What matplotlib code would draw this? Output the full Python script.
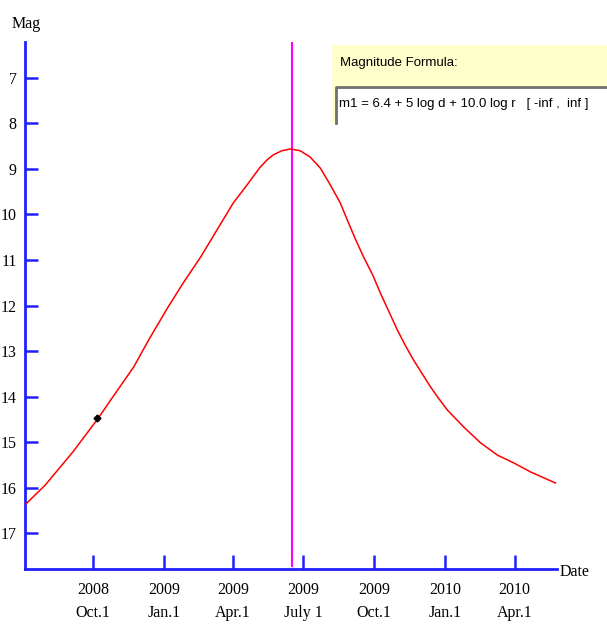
import datetime as dt
import matplotlib
matplotlib.use("Agg")
import matplotlib.pyplot as plt
import matplotlib.dates as mdates
from matplotlib.patches import Rectangle

# curve (date, magnitude)
curve_dates = ["2008-07-05", "2008-07-31", "2008-09-05", "2008-10-07", "2008-10-24",
               "2008-11-23", "2008-12-14", "2009-01-06", "2009-01-26", "2009-02-18",
               "2009-03-11", "2009-04-01", "2009-04-19", "2009-05-06", "2009-05-15",
               "2009-05-23", "2009-06-03", "2009-06-14", "2009-06-27", "2009-07-10",
               "2009-07-23", "2009-08-05", "2009-08-18", "2009-08-27", "2009-09-06",
               "2009-09-17", "2009-09-29", "2009-10-09", "2009-10-31", "2009-11-10",
               "2009-11-21", "2009-12-13", "2009-12-23", "2010-01-04", "2010-01-25",
               "2010-02-16", "2010-03-10", "2010-03-31", "2010-04-22", "2010-05-24"]
curve_mags = [16.38, 15.95, 15.22, 14.50, 14.08,
              13.35, 12.71, 12.05, 11.51, 10.93,
              10.34, 9.75, 9.35, 8.96, 8.80,
              8.69, 8.60, 8.56, 8.60, 8.74,
              8.98, 9.35, 9.75, 10.12, 10.52,
              10.93, 11.33, 11.73, 12.54, 12.87,
              13.20, 13.79, 14.03, 14.30, 14.67,
              15.02, 15.29, 15.46, 15.66, 15.90]

obs_dates = ["2008-10-07"]
obs_mags = [14.47]

today = "2009-06-16"

tick_dates = ["2008-10-01", "2009-01-01", "2009-04-01", "2009-07-01",
              "2009-10-01", "2010-01-01", "2010-04-01"]
tick_labels = ["2008\nOct.1", "2009\nJan.1", "2009\nApr.1", "2009\nJuly 1",
               "2009\nOct.1", "2010\nJan.1", "2010\nApr.1"]
mag_ticks = [7, 8, 9, 10, 11, 12, 13, 14, 15, 16, 17]

formula = "m1 = 6.4 + 5 log d + 10.0 log r   [ -inf ,  inf ]"


def to_dt(s):
    return dt.datetime.strptime(s, "%Y-%m-%d")


W, H = 607, 624
fig = plt.figure(figsize=(W / 100, H / 100), dpi=100)
ax = fig.add_axes([25 / W, (H - 569) / H, 532 / W, (569 - 42) / H])

blue = "#2020ff"
lab_font = "Liberation Serif"
box_font = "Liberation Sans"

ax.plot([to_dt(d) for d in curve_dates], curve_mags, color="red", lw=1.1, zorder=3)
ax.plot([to_dt(d) for d in obs_dates], obs_mags, "D", color="black", ms=3.5, zorder=4)
ax.axvline(to_dt(today), ymin=0.005, ymax=1, color="magenta", lw=1.5, zorder=2)

ax.set_xlim(to_dt("2008-07-05"), to_dt("2010-05-26"))
ax.set_ylim(17.79, 6.21)

ax.set_xticks([mdates.date2num(to_dt(d)) for d in tick_dates])
ax.set_xticklabels(tick_labels, fontfamily=lab_font, fontsize=11.5, linespacing=1.65)
ax.set_yticks(mag_ticks)
ax.set_yticklabels([str(m) for m in mag_ticks], fontfamily=lab_font, fontsize=11.5)

ax.tick_params(axis="x", direction="in", length=10, width=1.8, color=blue, pad=9)
ax.tick_params(axis="y", direction="in", length=9, width=1.8, color=blue, pad=6)

for side in ["top", "right"]:
    ax.spines[side].set_visible(False)
for side in ["left", "bottom"]:
    ax.spines[side].set_color(blue)
    ax.spines[side].set_linewidth(2)

fig.text(12 / W, 1 - 24 / H, "Mag", fontfamily=lab_font, fontsize=11.5, va="center", ha="left")
fig.text(560 / W, 1 - 572 / H, "Date", fontfamily=lab_font, fontsize=11.5, va="center", ha="left")

# formula panel in the top right corner
fig.patches.append(Rectangle((332 / W, 1 - 123 / H), (W - 332) / W, 78 / H,
                             transform=fig.transFigure, facecolor="#ffffcc",
                             edgecolor="none", zorder=5))
fig.patches.append(Rectangle((336 / W, 1 - 123 / H), (W - 336) / W, 36 / H,
                             transform=fig.transFigure, facecolor="white",
                             edgecolor="none", zorder=6))
fig.lines.append(plt.Line2D([336 / W, 336 / W, 1], [1 - 123 / H, 1 - 87 / H, 1 - 87 / H],
                            transform=fig.transFigure, color="#707070", lw=2, zorder=7))
fig.text(340 / W, 1 - 63 / H, "Magnitude Formula:", fontfamily=box_font,
         fontsize=9.5, va="center", ha="left", zorder=8)
fig.text(339 / W, 1 - 104 / H, formula, fontfamily=box_font,
         fontsize=9.5, va="center", ha="left", zorder=8)

fig.savefig("out.png", dpi=100)
